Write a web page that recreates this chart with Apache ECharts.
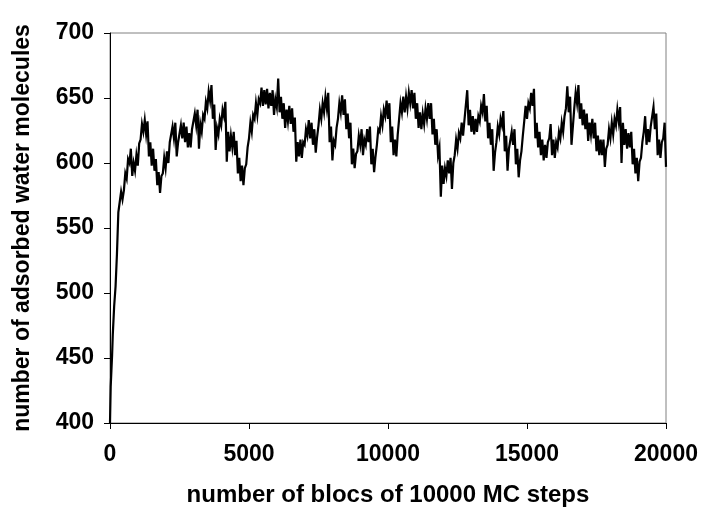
<!DOCTYPE html>
<html>
<head>
<meta charset="utf-8">
<script src="https://cdn.jsdelivr.net/npm/echarts@6/dist/echarts.min.js"></script>
<style>
html,body{margin:0;padding:0;background:#fff;}
#chart{width:707px;height:518px;}
</style>
</head>
<body>
<div id="chart"></div>
<script>
// Initial rise (blocks, molecules)
var riseSteps  = [0, 25, 50, 75, 100, 150, 200, 250, 300, 350, 400, 450];
var riseValues = [400, 428, 440, 452, 468, 490, 505, 530, 562, 570, 578, 572];

// Trace from block 500 to 20000, every 50 blocks
var traceStart = 500;
var traceStep = 50;
var traceValues = [
  579, 592, 588, 603, 600, 611, 590, 600, 594, 606,
  598, 615, 618, 630, 624, 633, 622, 632, 605, 616,
  598, 611, 594, 603, 583, 593, 577, 590, 592, 604,
  596, 609, 600, 616, 615, 628, 619, 631, 605, 616,
  617, 629, 619, 631, 616, 628, 612, 623, 612, 626,
  626, 638, 629, 641, 611, 630, 624, 637, 634, 647,
  642, 655, 648, 660, 634, 645, 610, 627, 622, 634,
  629, 641, 636, 647, 601, 624, 609, 621, 612, 624,
  606, 617, 592, 604, 586, 598, 583, 596, 599, 612,
  619, 631, 624, 637, 634, 646, 637, 649, 646, 658,
  644, 656, 645, 657, 642, 654, 644, 656, 637, 649,
  643, 665, 639, 651, 634, 646, 627, 641, 632, 644,
  630, 642, 624, 635, 601, 616, 605, 618, 604, 616,
  614, 626, 621, 633, 619, 631, 614, 626, 608, 620,
  629, 641, 634, 646, 639, 651, 642, 654, 616, 628,
  602, 617, 614, 627, 634, 646, 639, 652, 637, 649,
  626, 638, 619, 631, 599, 611, 596, 607, 609, 621,
  614, 626, 606, 618, 614, 626, 616, 628, 599, 611,
  593, 605, 614, 626, 624, 636, 629, 641, 636, 648,
  634, 646, 616, 628, 606, 618, 605, 622, 634, 646,
  639, 651, 639, 651, 642, 654, 646, 656, 642, 654,
  634, 646, 627, 639, 626, 638, 630, 642, 634, 646,
  634, 646, 622, 634, 614, 626, 606, 612, 574, 598,
  584, 596, 590, 602, 592, 604, 580, 600, 606, 618,
  611, 623, 619, 631, 621, 633, 634, 656, 629, 641,
  624, 636, 622, 634, 624, 636, 632, 644, 639, 653,
  632, 644, 619, 631, 614, 626, 594, 608, 616, 628,
  622, 634, 629, 640, 609, 621, 594, 611, 612, 624,
  614, 626, 599, 611, 589, 602, 609, 621, 632, 644,
  634, 646, 642, 654, 644, 657, 619, 631, 612, 624,
  606, 618, 602, 614, 604, 616, 619, 630, 606, 618,
  604, 616, 612, 624, 619, 631, 624, 636, 642, 659,
  639, 651, 614, 628, 642, 654, 646, 660, 634, 646,
  629, 641, 626, 638, 617, 631, 622, 634, 619, 631,
  609, 621, 606, 618, 606, 618, 597, 611, 614, 626,
  619, 631, 622, 634, 629, 641, 632, 643, 600, 631,
  614, 626, 611, 623, 612, 624, 599, 611, 592, 604,
  586, 601, 604, 616, 624, 636, 614, 626, 616, 628,
  629, 643, 626, 638, 606, 618, 604, 616, 619, 631,
  597
];

var xTicks = {min: 0, max: 20000, interval: 5000};
var yTicks = {min: 400, max: 700, interval: 50};
var xTitle = 'number of blocs of 10000 MC steps';
var yTitle = 'number of adsorbed water molecules';

var data = [];
for (var i = 0; i < riseSteps.length; i++) data.push([riseSteps[i], riseValues[i]]);
for (var j = 0; j < traceValues.length; j++) data.push([traceStart + j * traceStep, traceValues[j]]);

var font = '"Liberation Sans", Arial, sans-serif';
var chart = echarts.init(document.getElementById('chart'), null, {renderer: 'canvas'});
chart.setOption({
  animation: false,
  backgroundColor: '#ffffff',
  grid: {left: 110, right: 41, top: 33, bottom: 95, show: true, borderColor: '#808080', borderWidth: 1, backgroundColor: 'transparent'},
  xAxis: {
    type: 'value', min: xTicks.min, max: xTicks.max, interval: xTicks.interval,
    name: xTitle, nameLocation: 'middle', nameGap: 60,
    nameTextStyle: {fontFamily: font, fontWeight: 'bold', fontSize: 24, color: '#000'},
    axisLine: {show: true, onZero: false, lineStyle: {color: '#000', width: 1}},
    axisTick: {show: true, length: 6, lineStyle: {color: '#000'}},
    axisLabel: {fontFamily: font, fontWeight: 'bold', fontSize: 23, color: '#000', margin: 20,
      formatter: function (v) { return String(v); }},
    splitLine: {show: false}
  },
  yAxis: {
    type: 'value', min: yTicks.min, max: yTicks.max, interval: yTicks.interval,
    name: yTitle, nameLocation: 'middle', nameGap: 76, nameRotate: 90,
    nameTextStyle: {fontFamily: font, fontWeight: 'bold', fontSize: 23, color: '#000'},
    axisLine: {show: true, onZero: false, lineStyle: {color: '#000', width: 1}},
    axisTick: {show: true, length: 6, lineStyle: {color: '#000'}},
    axisLabel: {fontFamily: font, fontWeight: 'bold', fontSize: 23, color: '#000', margin: 16,
      formatter: function (v) { return String(v); }},
    splitLine: {show: false}
  },
  series: [{
    type: 'line', data: data, showSymbol: false, symbol: 'none',
    lineStyle: {color: '#000', width: 2.2, join: 'miter'}, clip: true
  }]
});
</script>
</body>
</html>
